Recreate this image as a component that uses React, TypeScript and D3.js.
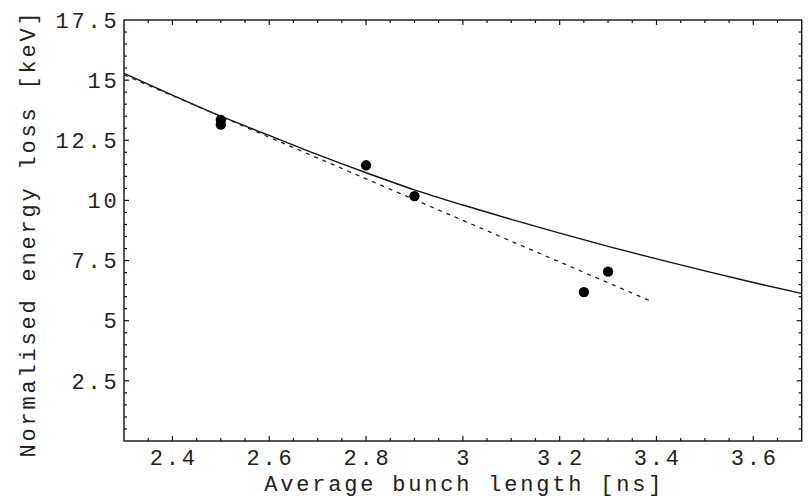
import React from "react";
import * as d3 from "d3";

// Measured points
const pointX = [2.5, 2.5, 2.8, 2.9, 3.25, 3.3];
const pointY = [13.35, 13.15, 11.46, 10.18, 6.19, 7.04];

// Solid curve
const curveX = [2.3, 2.4, 2.5, 2.6, 2.7, 2.8, 2.9, 3.0, 3.1, 3.2, 3.3, 3.4, 3.5, 3.6, 3.7];
const curveY = [15.28, 14.38, 13.5, 12.7, 11.9, 11.15, 10.44, 9.81, 9.21, 8.64, 8.09, 7.57, 7.07, 6.59, 6.13];

// Dashed straight line
const dashX = [2.3, 3.39];
const dashY = [15.22, 5.8];

// Tick labels
const xTicks = [2.4, 2.6, 2.8, 3.0, 3.2, 3.4, 3.6];
const xTickLabels = ["2.4", "2.6", "2.8", "3", "3.2", "3.4", "3.6"];
const yTicks = [2.5, 5, 7.5, 10, 12.5, 15, 17.5];
const yTickLabels = ["2.5", "5", "7.5", "10", "12.5", "15", "17.5"];

const xTitle = "Average bunch length [ns]";
const yTitle = "Normalised energy loss [keV]";

export default function App() {
  const W = 810;
  const H = 499;
  const left = 124;
  const right = 801.7;
  const top = 20;
  const bottom = 441;

  const x = d3.scaleLinear().domain([2.3, 3.7]).range([left, right]);
  const y = d3.scaleLinear().domain([0, 17.5]).range([bottom, top]);

  const line = d3
    .line<[number, number]>()
    .x((d) => x(d[0]))
    .y((d) => y(d[1]))
    .curve(d3.curveMonotoneX);

  const curveData = curveX.map((v, i) => [v, curveY[i]] as [number, number]);
  const dashData = dashX.map((v, i) => [v, dashY[i]] as [number, number]);

  const xMinor = d3.range(2.3, 3.7001, 0.05).map((v) => +v.toFixed(3));
  const yMinor = d3.range(0, 17.5001, 0.5).map((v) => +v.toFixed(3));
  const isMajorX = (v: number) => xTicks.some((t) => Math.abs(t - v) < 1e-6);
  const isMajorY = (v: number) => yTicks.some((t) => Math.abs(t - v) < 1e-6);

  const font = "'Liberation Mono', 'Courier New', monospace";
  const fs = 22;
  const ls = 2.8;
  const textColor = "#222";
  const majorLen = 5;
  const minorLen = 3;

  return (
    <svg
      width={W}
      height={H}
      style={{ position: "absolute", left: 0, top: 0, background: "#fff" }}
    >
      <rect x={0} y={0} width={W} height={H} fill="#fff" />
      {/* curves */}
      <path d={line(curveData) || ""} fill="none" stroke="#111" strokeWidth={1.4} />
      <path
        d={line(dashData) || ""}
        fill="none"
        stroke="#222"
        strokeWidth={1.3}
        strokeDasharray="4,5"
      />
      {/* points */}
      {pointX.map((v, i) => (
        <circle key={i} cx={x(v)} cy={y(pointY[i])} r={5.2} fill="#000" />
      ))}
      {/* frame */}
      <rect
        x={left}
        y={top}
        width={right - left}
        height={bottom - top}
        fill="none"
        stroke="#111"
        strokeWidth={1.4}
      />
      {/* x ticks (bottom & top) */}
      {xMinor.map((v, i) => {
        const len = isMajorX(v) ? majorLen : minorLen;
        const px = x(v);
        if (px <= left + 1 || px >= right - 1) return null;
        return (
          <g key={"xt" + i}>
            <line x1={px} x2={px} y1={bottom} y2={bottom - len} stroke="#111" strokeWidth={1.2} />
            <line x1={px} x2={px} y1={top} y2={top + len} stroke="#111" strokeWidth={1.2} />
          </g>
        );
      })}
      {/* y ticks (left & right) */}
      {yMinor.map((v, i) => {
        const len = isMajorY(v) ? majorLen : minorLen;
        const py = y(v);
        if (py <= top + 1 || py >= bottom - 1) return null;
        return (
          <g key={"yt" + i}>
            <line x1={left} x2={left + len} y1={py} y2={py} stroke="#111" strokeWidth={1.2} />
            <line x1={right} x2={right - len} y1={py} y2={py} stroke="#111" strokeWidth={1.2} />
          </g>
        );
      })}
      {/* x tick labels */}
      {xTicks.map((v, i) => (
        <text
          key={"xl" + i}
          x={x(v) + ls / 2}
          y={465}
          textAnchor="middle"
          fontFamily={font}
          fontSize={fs}
          letterSpacing={ls}
          fill={textColor}
        >
          {xTickLabels[i]}
        </text>
      ))}
      {/* y tick labels */}
      {yTicks.map((v, i) => (
        <text
          key={"yl" + i}
          x={116.7 + ls}
          y={y(v)}
          dy="0.35em"
          textAnchor="end"
          fontFamily={font}
          fontSize={fs}
          letterSpacing={ls}
          fill={textColor}
        >
          {yTickLabels[i]}
        </text>
      ))}
      {/* axis titles */}
      <text
        x={(left + right) / 2 + ls / 2}
        y={491}
        textAnchor="middle"
        fontFamily={font}
        fontSize={fs}
        letterSpacing={ls}
        fill={textColor}
      >
        {xTitle}
      </text>
      <text
        transform={`translate(35, ${(7 + 460) / 2}) rotate(-90)`}
        textAnchor="middle"
        fontFamily={font}
        fontSize={fs}
        letterSpacing={ls}
        fill={textColor}
      >
        {yTitle}
      </text>
    </svg>
  );
}
